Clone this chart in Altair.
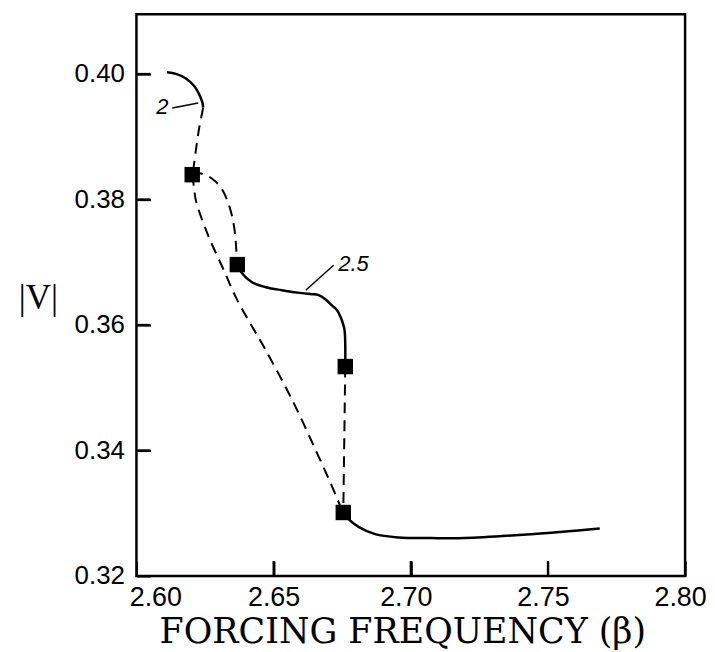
import altair as alt
import pandas as pd

# Branch "2" (solid arc)
a_x = [2.61114, 2.61441, 2.61804, 2.62105, 2.62287, 2.62407, 2.62432]
a_y = [0.40029, 0.40002, 0.39929, 0.39807, 0.39675, 0.39542, 0.39463]

# Dashed from branch-2 end down to square 1
b_x = [2.62432, 2.62287, 2.62178, 2.62080, 2.62033]
b_y = [0.39463, 0.39141, 0.38823, 0.38506, 0.38395]

# Dashed upper: square 1 -> square 2
c_x = [2.62033, 2.62348, 2.62770, 2.63074, 2.63314, 2.63495, 2.63593, 2.63641, 2.63677]
c_y = [0.38395, 0.38415, 0.38327, 0.38193, 0.37982, 0.37717, 0.37454, 0.37189, 0.36962]

# Dashed lower: square 1 -> square 4
d_x = [2.62033, 2.62105, 2.62167, 2.62588, 2.63132, 2.63677, 2.64221, 2.64708,
       2.65673, 2.66523, 2.67125, 2.67430, 2.67540]
d_y = [0.38395, 0.38173, 0.37982, 0.37454, 0.36924, 0.36395, 0.35972, 0.35602,
       0.34809, 0.34015, 0.33433, 0.33116, 0.33011]

# Solid: square 2 -> square 3 (branch 2.5)
e_x = [2.63677, 2.63848, 2.64211, 2.64719, 2.65299, 2.66025, 2.66399, 2.66642,
       2.66886, 2.67114, 2.67307, 2.67441, 2.67525, 2.67586, 2.67612, 2.67612]
e_y = [0.36962, 0.36824, 0.36681, 0.36602, 0.36554, 0.36507, 0.36491, 0.36475,
       0.36411, 0.36316, 0.36237, 0.36126, 0.36026, 0.35919, 0.35681, 0.35337]

# Solid: square 4 -> right end
f_x = [2.67540, 2.67731, 2.68094, 2.68701, 2.69546, 2.70744, 2.71967, 2.74385, 2.76889]
f_y = [0.33011, 0.32904, 0.32782, 0.32666, 0.32614, 0.32603, 0.32603, 0.32666, 0.32757]

# Dashed vertical: square 3 -> square 4
g_x = [2.67612, 2.67540]
g_y = [0.35337, 0.33011]

# Bifurcation points (squares)
sq_x = [2.62033, 2.63677, 2.67612, 2.67540]
sq_y = [0.38395, 0.36962, 0.35337, 0.33011]

# Curve labels and leader lines
lab_text = ["2", "2.5"]
lab_x = [2.60944, 2.67913]
lab_y = [0.39474, 0.36967]
lead_x1 = [2.61307, 2.67187]
lead_y1 = [0.39458, 0.36951]
lead_x2 = [2.62250, 2.66171]
lead_y2 = [0.39537, 0.36554]

X_MIN, X_MAX = 2.60, 2.80
Y_MIN, Y_MAX = 0.32, 0.4095
x_ticks = [2.60, 2.65, 2.70, 2.75, 2.80]
y_ticks = [0.32, 0.34, 0.36, 0.38, 0.40]
x_inner_ticks = [2.65, 2.70, 2.75]
y_inner_ticks = [0.34, 0.36, 0.38, 0.40]

segments = [("A", a_x, a_y, "solid"), ("B", b_x, b_y, "dash"), ("C", c_x, c_y, "dash"),
            ("D", d_x, d_y, "dash"), ("E", e_x, e_y, "solid"), ("F", f_x, f_y, "solid"),
            ("G", g_x, g_y, "dash")]
rows = []
for name, xs, ys, style in segments:
    for i, (xv, yv) in enumerate(zip(xs, ys)):
        rows.append({"seg": name, "x": xv, "y": yv, "o": i, "style": style})
curves = pd.DataFrame(rows)
squares = pd.DataFrame({"x": sq_x, "y": sq_y})
labels = pd.DataFrame({"x": lab_x, "y": lab_y, "t": lab_text})
leaders = pd.DataFrame({"x": lead_x1, "y": lead_y1, "x2": lead_x2, "y2": lead_y2})

XT = 15
YT = 14
# centres of the inward tick glyphs (half a tick length inside the frame)
xtk = pd.DataFrame({"x": x_inner_ticks,
                    "y": [Y_MIN + (Y_MAX - Y_MIN) * (XT / 2) / 564] * len(x_inner_ticks)})
ytk = pd.DataFrame({"y": y_inner_ticks,
                    "x": [X_MIN + (X_MAX - X_MIN) * (YT / 2) / 551] * len(y_inner_ticks)})

xscale = alt.Scale(domain=[X_MIN, X_MAX], nice=False, zero=False)
yscale = alt.Scale(domain=[Y_MIN, Y_MAX], nice=False, zero=False)

# Axes are pulled inside the frame (negative offset) so their ticks point inward.
xaxis = alt.Axis(
    values=x_ticks, format=".2f", grid=False, domain=False, zindex=2,
    offset=-XT, ticks=True, tickSize=XT, tickWidth=2.2, tickColor="black",
    labelFlush=False, labelOverlap=False,
    labelFont="Liberation Sans", labelFontSize=27, labelColor="black", labelPadding=9,
    labelOffset={"condition": [{"test": "datum.value < 2.61", "value": 19},
                               {"test": "datum.value < 2.66", "value": 0}],
                 "value": -5},
    title="FORCING FREQUENCY (β)", titleFont="DejaVu Serif", titleFontSize=35,
    titleFontWeight="normal", titleColor="black", titleX=267, titleY=67 + XT,
    titleAlign="center", titleBaseline="alphabetic",
)
yaxis = alt.Axis(
    values=y_ticks, format=".2f", grid=False, domain=False, zindex=2,
    offset=-YT, ticks=True, tickSize=YT, tickWidth=2.2, tickColor="black",
    labelFlush=False, labelOverlap=False,
    labelFont="Liberation Sans", labelFontSize=26, labelColor="black", labelPadding=12,
    title="|V|", titleFont="Liberation Serif", titleFontSize=35, titleFontWeight="normal",
    titleColor="black", titleAngle=0, titleX=-99 - YT, titleY=284,
    titleAlign="center", titleBaseline="middle",
)

X = alt.X("x:Q", scale=xscale, axis=xaxis)
Y = alt.Y("y:Q", scale=yscale, axis=yaxis)

solid = alt.Chart(curves).transform_filter("datum.style == 'solid'").mark_line(
    color="black", strokeWidth=2.5, interpolate="catmull-rom"
).encode(x=X, y=Y, detail="seg:N", order="o:Q")

dashed = alt.Chart(curves).transform_filter("datum.style == 'dash'").mark_line(
    color="black", strokeWidth=2.0, strokeDash=[11, 7], interpolate="catmull-rom"
).encode(x=X, y=Y, detail="seg:N", order="o:Q")

sq = alt.Chart(squares).mark_square(color="black", opacity=1, size=240).encode(x=X, y=Y)

lead = alt.Chart(leaders).mark_rule(color="black", strokeWidth=1.5).encode(
    x=X, y=Y, x2="x2:Q", y2="y2:Q")

xtick_glyph = alt.Chart(xtk).mark_point(
    shape="M0,-1L0,1", size=XT * XT, filled=False, stroke="black",
    strokeWidth=2.2, opacity=1
).encode(x=X, y=Y)
ytick_glyph = alt.Chart(ytk).mark_point(
    shape="M-1,0L1,0", size=YT * YT, filled=False, stroke="black",
    strokeWidth=2.2, opacity=1
).encode(x=X, y=Y)

txt = alt.Chart(labels).mark_text(
    font="Liberation Sans", fontSize=22, fontStyle="italic", color="black",
    align="center", baseline="middle"
).encode(x=X, y=Y, text="t:N")

chart = alt.layer(solid, dashed, sq, lead, xtick_glyph, ytick_glyph, txt).properties(
    width=551, height=564,
    padding={"left": 129, "top": 5, "right": 22, "bottom": 74},
    autosize=alt.AutoSizeParams(type="none"),
    background="white",
).configure_view(stroke="black", strokeWidth=2.5)

chart.save("out.html", embed_options={"renderer": "svg", "actions": False})
